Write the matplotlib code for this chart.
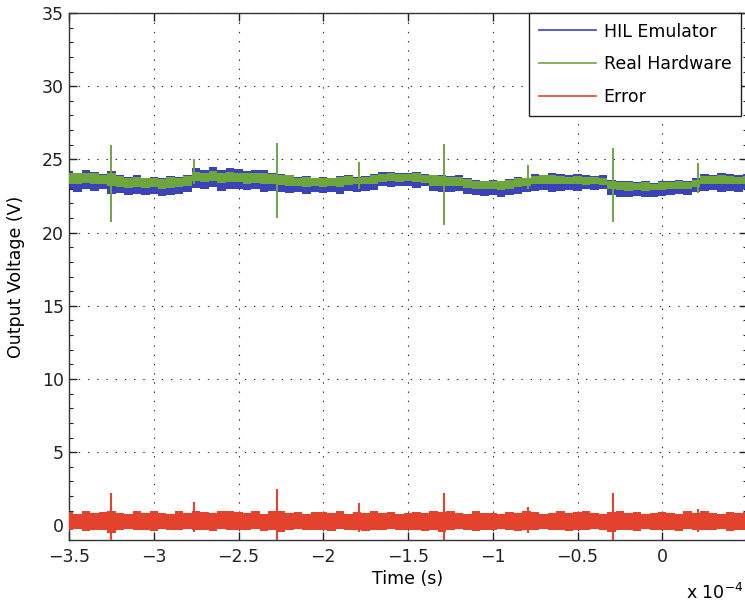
import numpy as np
import matplotlib
matplotlib.use('Agg')
import matplotlib.pyplot as plt
from matplotlib.lines import Line2D
from matplotlib.ticker import MultipleLocator, FixedLocator, FuncFormatter

# sample instants (s): one envelope value every 5 us
tempo = np.linspace(-3.5e-4, 0.5e-4, 81)

# HIL emulator output, upper/lower envelope of the noisy trace (V)
hil_alto = [24.2, 24.1, 24.25, 24.15, 24.0, 24.2, 23.9, 23.8, 23.9, 23.75,
            23.8, 23.7, 23.85, 23.8, 23.95, 24.4, 24.3, 24.45, 24.3, 24.4,
            24.35, 24.2, 24.3, 24.25, 24.1, 24.0, 23.95, 23.8, 23.85, 23.75,
            23.8, 23.7, 23.85, 23.9, 23.8, 23.85, 24.0, 24.15, 24.15, 24.05,
            24.1, 24.15, 24.0, 23.95, 23.9, 23.85, 23.9, 23.7, 23.6, 23.55,
            23.6, 23.5, 23.65, 23.8, 23.75, 24.0, 23.95, 24.05, 24.0, 23.9,
            24.0, 23.95, 23.85, 23.9, 23.6, 23.5, 23.55, 23.45, 23.5, 23.4,
            23.5, 23.55, 23.6, 23.5, 23.7, 24.0, 23.95, 24.05, 24.0, 23.9, 24.0]
hil_baixo = [22.95, 22.75, 23.0, 22.85, 22.95, 22.65, 22.7, 22.55, 22.65, 22.6,
             22.65, 22.5, 22.6, 22.65, 22.75, 23.05, 23.0, 23.1, 22.85, 22.95,
             23.0, 22.9, 22.95, 22.8, 22.85, 22.75, 22.7, 22.75, 22.65, 22.8,
             22.7, 22.75, 22.65, 22.85, 22.8, 22.85, 22.9, 23.15, 23.1, 23.2,
             23.15, 23.05, 23.15, 22.85, 22.8, 22.75, 22.85, 22.65, 22.55, 22.5,
             22.6, 22.45, 22.55, 22.65, 22.75, 22.85, 22.9, 22.8, 22.85, 22.9,
             22.85, 22.95, 22.9, 22.95, 22.55, 22.45, 22.4, 22.5, 22.45, 22.4,
             22.5, 22.55, 22.65, 22.55, 22.75, 22.85, 22.9, 22.8, 22.85, 22.75, 22.95]

# real hardware measurement envelope (V)
hw_alto = [24.1, 24.05, 24.1, 24.05, 23.95, 24.05, 23.85, 23.75, 23.8, 23.7,
           23.75, 23.65, 23.8, 23.75, 23.85, 24.15, 24.1, 24.2, 24.1, 24.15,
           24.1, 24.05, 24.1, 24.05, 24.0, 23.95, 23.9, 23.75, 23.8, 23.7,
           23.75, 23.7, 23.8, 23.85, 23.75, 23.8, 23.95, 24.0, 24.05, 24.0,
           24.0, 24.05, 23.95, 23.9, 23.85, 23.8, 23.8, 23.65, 23.55, 23.5,
           23.55, 23.5, 23.6, 23.7, 23.7, 23.85, 23.9, 23.9, 23.85, 23.8,
           23.85, 23.8, 23.8, 23.75, 23.5, 23.45, 23.45, 23.4, 23.45, 23.35,
           23.45, 23.45, 23.5, 23.45, 23.6, 23.85, 23.85, 23.9, 23.85, 23.8, 23.85]
hw_baixo = [23.35, 23.3, 23.4, 23.3, 23.35, 23.2, 23.1, 23.05, 23.1, 23.05,
            23.1, 23.0, 23.05, 23.1, 23.15, 23.5, 23.45, 23.5, 23.4, 23.45,
            23.45, 23.35, 23.4, 23.3, 23.3, 23.25, 23.2, 23.15, 23.1, 23.15,
            23.1, 23.15, 23.1, 23.25, 23.3, 23.3, 23.35, 23.45, 23.5, 23.45,
            23.5, 23.45, 23.4, 23.2, 23.2, 23.15, 23.2, 23.05, 22.95, 22.95,
            23.0, 22.9, 22.95, 23.1, 23.2, 23.35, 23.3, 23.35, 23.3, 23.35,
            23.3, 23.25, 23.3, 23.25, 22.95, 22.9, 22.85, 22.9, 22.85, 22.9,
            22.9, 22.95, 23.0, 22.95, 23.1, 23.35, 23.3, 23.35, 23.3, 23.3, 23.35]

# switching spikes seen on the hardware probe
hw_picos_t = [-3.25e-4, -2.76e-4, -2.27e-4, -1.79e-4, -1.29e-4, -0.79e-4, -0.29e-4, 0.21e-4]
hw_picos_max = [26.0, 25.0, 26.1, 24.85, 26.05, 24.6, 25.8, 24.75]
hw_picos_min = [20.75, 23.3, 21.0, 23.0, 20.55, 23.0, 20.75, 22.7]

# error between both traces (V)
erro_alto = [0.9, 0.8, 1.0, 0.85, 0.9, 1.0, 0.85, 0.8, 0.95, 0.85,
             0.95, 0.85, 0.8, 0.95, 0.85, 0.95, 0.9, 0.85, 1.0, 1.0,
             0.9, 0.85, 0.95, 0.8, 0.95, 1.0, 0.85, 0.9, 0.8, 0.9,
             0.9, 0.85, 0.95, 0.8, 0.9, 0.85, 1.0, 0.85, 0.9, 0.8,
             0.85, 0.9, 0.85, 0.95, 0.9, 1.0, 0.85, 0.8, 0.95, 0.85,
             0.85, 0.8, 0.9, 0.85, 0.95, 0.9, 0.8, 0.85, 0.95, 0.85,
             0.9, 0.95, 0.85, 0.8, 0.9, 0.95, 0.85, 0.9, 0.8, 0.85,
             0.9, 0.85, 0.8, 0.95, 0.85, 0.95, 0.85, 0.8, 0.9, 0.85, 0.9]
erro_baixo = [-0.35, -0.25, -0.4, -0.3, -0.35, -0.5, -0.3, -0.25, -0.35, -0.3,
              -0.4, -0.25, -0.35, -0.3, -0.25, -0.35, -0.3, -0.4, -0.25, -0.35,
              -0.3, -0.35, -0.25, -0.4, -0.35, -0.45, -0.3, -0.25, -0.35, -0.3,
              -0.35, -0.4, -0.25, -0.3, -0.35, -0.4, -0.3, -0.35, -0.25, -0.35,
              -0.3, -0.35, -0.4, -0.3, -0.45, -0.35, -0.25, -0.3, -0.4, -0.35,
              -0.3, -0.25, -0.35, -0.4, -0.3, -0.35, -0.25, -0.35, -0.3, -0.4,
              -0.35, -0.3, -0.25, -0.35, -0.45, -0.35, -0.3, -0.4, -0.25, -0.35,
              -0.3, -0.35, -0.4, -0.25, -0.35, -0.3, -0.35, -0.25, -0.4, -0.3, -0.35]
erro_picos_max = [2.2, 1.6, 2.5, 1.55, 2.2, 1.25, 2.2, 1.15]
erro_picos_min = [-1.0, -0.45, -1.0, -0.45, -1.1, -0.5, -1.1, -0.45]

cor_hil = '#3a44b8'
cor_hw = '#6fa63c'
cor_erro = '#e3432d'

fig = plt.figure(figsize=(7.45, 6.08), dpi=100)
ax = fig.add_axes([69 / 745, 68 / 608, 678 / 745, 527 / 608])

# noisy traces drawn as their envelopes
ax.fill_between(tempo, hil_baixo, hil_alto, step='mid', color=cor_hil, lw=0, zorder=2)
ax.fill_between(tempo, hw_baixo, hw_alto, step='mid', color=cor_hw, lw=0, zorder=3)
ax.vlines(hw_picos_t, hw_picos_min, hw_picos_max, color=cor_hw, lw=1.4, zorder=3)
ax.fill_between(tempo, erro_baixo, erro_alto, step='mid', color=cor_erro, lw=0, zorder=4)
ax.vlines(hw_picos_t, erro_picos_min, erro_picos_max, color=cor_erro, lw=1.5, zorder=4)

ax.set_xlim(-3.5e-4, 0.5e-4)
ax.set_ylim(-1, 35)
ax.xaxis.set_major_locator(FixedLocator(np.arange(-3.5, 0.01, 0.5) * 1e-4))
ax.xaxis.set_major_formatter(FuncFormatter(lambda v, p: f"{v * 1e4:g}".replace('-', '\u2212')))
ax.yaxis.set_major_locator(MultipleLocator(5))
ax.yaxis.set_minor_locator(MultipleLocator(1))

ax.tick_params(which='both', direction='in', top=True, right=True, labelsize=12.5, colors='#222222')
ax.tick_params(which='major', length=6, width=1)
ax.tick_params(which='minor', length=3, width=0.8)
ax.tick_params(axis='x', pad=6)
for s in ax.spines.values():
    s.set_color('#333333')
    s.set_linewidth(1.0)

ax.grid(True, which='major', color='#333333', linestyle=(0, (1.3, 7)), linewidth=0.8)
ax.set_axisbelow(True)

ax.set_xlabel('Time (s)', fontsize=12.5, labelpad=3)
ax.set_ylabel('Output Voltage (V)', fontsize=12.5, labelpad=12)
fig.text(0.998, 0.008, r'x 10$^{-4}$', ha='right', va='bottom', fontsize=12.5)

handles = [Line2D([], [], color=cor_hil, lw=1.2),
           Line2D([], [], color=cor_hw, lw=1.2),
           Line2D([], [], color=cor_erro, lw=1.2)]
leg = ax.legend(handles, ['HIL Emulator', 'Real Hardware', 'Error'],
                loc='upper right', bbox_to_anchor=((741 - 69) / 678, 1.0),
                borderaxespad=0, fancybox=False, framealpha=1, edgecolor='#222222',
                fontsize=12.5, handlelength=3.3, handletextpad=0.45, labelspacing=0.85,
                borderpad=0.55)
leg.get_frame().set_linewidth(1.0)
leg.set_zorder(10)

fig.savefig('out.png', dpi=100)
